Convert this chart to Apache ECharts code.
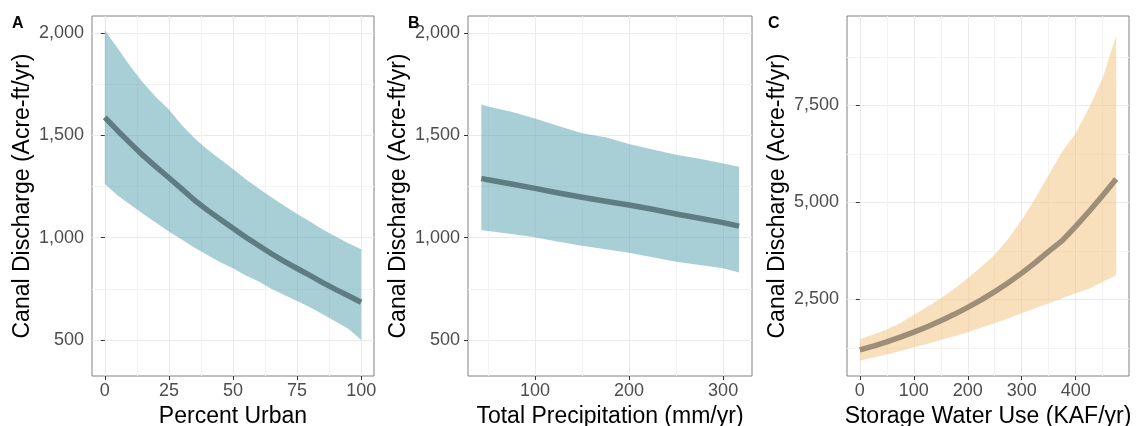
<!DOCTYPE html>
<html>
<head>
<meta charset="utf-8">
<script src="https://cdn.jsdelivr.net/npm/echarts@6/dist/echarts.min.js"></script>
<style>
  html, body { margin: 0; padding: 0; background: #ffffff; }
  #chart { width: 1136px; height: 426px; }
</style>
</head>
<body>
<div id="chart"></div>
<script>
// Panel A: canal discharge against percent urban
const urbanPct = [0, 5, 10, 15, 20, 25, 30, 35, 40, 45, 50, 55, 60, 65, 70, 75, 80, 85, 90, 95, 100];
const urbanFit = [1587, 1522, 1460, 1400, 1345, 1292, 1238, 1182, 1134, 1089, 1045, 1002, 961, 921, 884, 849, 815, 780, 747, 716, 684];
const urbanLo  = [1262, 1205, 1160, 1115, 1072, 1030, 990, 950, 915, 880, 850, 815, 785, 750, 720, 690, 660, 625, 590, 555, 500];
const urbanHi  = [2012, 1925, 1835, 1755, 1685, 1625, 1550, 1485, 1430, 1383, 1335, 1285, 1240, 1197, 1155, 1115, 1078, 1040, 1005, 972, 943];

// Panel B: canal discharge against total precipitation
const precipMm  = [43, 50, 75, 100, 125, 150, 175, 200, 225, 250, 275, 300, 317];
const precipFit = [1289, 1282, 1262, 1240, 1218, 1197, 1177, 1159, 1138, 1115, 1094, 1073, 1056];
const precipLo  = [1037, 1032, 1018, 1001, 980, 960, 943, 926, 904, 882, 866, 850, 830];
const precipHi  = [1650, 1640, 1615, 1582, 1545, 1510, 1490, 1457, 1430, 1405, 1385, 1362, 1346];

// Panel C: canal discharge against storage water use
const storageKaf = [0, 25, 50, 75, 100, 125, 150, 175, 200, 225, 250, 275, 300, 325, 350, 375, 400, 425, 450, 475];
const storageFit = [1194, 1295, 1405, 1524, 1654, 1794, 1946, 2112, 2291, 2486, 2696, 2925, 3174, 3443, 3736, 4010, 4380, 4770, 5175, 5600];
const storageLo  = [919, 1000, 1080, 1170, 1263, 1350, 1450, 1550, 1650, 1770, 1880, 2010, 2139, 2270, 2400, 2530, 2655, 2770, 2950, 3120];
const storageHi  = [1469, 1590, 1720, 1890, 2096, 2310, 2530, 2770, 3041, 3340, 3650, 4060, 4545, 5100, 5700, 6300, 6778, 7440, 8200, 9300];

// Tick positions
const ticksUrbanX    = [0, 25, 50, 75, 100];
const minorUrbanX    = [12.5, 37.5, 62.5, 87.5];
const ticksPrecipX   = [100, 200, 300];
const minorPrecipX   = [50, 150, 250];
const ticksStorageX  = [0, 100, 200, 300, 400];
const minorStorageX  = [50, 150, 250, 350, 450];
const ticksDischY    = [500, 1000, 1500, 2000];
const minorDischY    = [750, 1250, 1750];
const ticksDischYC   = [2500, 5000, 7500];
const minorDischYC   = [1250, 3750, 6250, 8750];

const FONT = 'Liberation Sans';
const fmt = v => Number(v).toLocaleString('en-US');

const grids = [
  { left: 92,  top: 16, width: 282, height: 360 },
  { left: 468, top: 16, width: 284, height: 360 },
  { left: 847, top: 16, width: 282, height: 360 }
];

const panels = [
  { x: urbanPct,   fit: urbanFit,   lo: urbanLo,   hi: urbanHi,
    xMin: -5, xMax: 105, yMin: 324, yMax: 2082,
    xTicks: ticksUrbanX, xMinor: minorUrbanX, yTicks: ticksDischY, yMinor: minorDischY,
    xName: 'Percent Urban', band: 'rgba(80,160,172,0.5)', line: '#5E7D82', tag: 'A' },
  { x: precipMm,   fit: precipFit,  lo: precipLo,  hi: precipHi,
    xMin: 28.8, xMax: 330.7, yMin: 324, yMax: 2082,
    xTicks: ticksPrecipX, xMinor: minorPrecipX, yTicks: ticksDischY, yMinor: minorDischY,
    xName: 'Total Precipitation (mm/yr)', band: 'rgba(80,160,172,0.5)', line: '#5E7D82', tag: 'B' },
  { x: storageKaf, fit: storageFit, lo: storageLo, hi: storageHi,
    xMin: -23.75, xMax: 498.75, yMin: 523, yMax: 9801,
    xTicks: ticksStorageX, xMinor: minorStorageX, yTicks: ticksDischYC, yMinor: minorDischYC,
    xName: 'Storage Water Use (KAF/yr)', band: 'rgba(242,194,122,0.5)', line: '#9E8D77', tag: 'C' }
];

const xAxes = [], yAxes = [], series = [], graphics = [];
const tagX = [12, 408, 768];

panels.forEach((p, g) => {
  // main axes: labels, ticks and major grid lines
  xAxes.push({
    gridIndex: g, type: 'value', min: p.xMin, max: p.xMax, position: 'bottom',
    name: p.xName, nameLocation: 'middle', nameGap: 24,
    nameTextStyle: { fontFamily: FONT, fontSize: 23, color: '#000' },
    axisLine: { show: false },
    axisTick: { show: true, length: 4, customValues: p.xTicks, lineStyle: { color: '#333', width: 1 } },
    axisLabel: { customValues: p.xTicks, margin: 6, fontFamily: FONT, fontSize: 18, color: '#4D4D4D', formatter: fmt },
    splitLine: { show: true, lineStyle: { color: '#EBEBEB', width: 1 } }
  });
  yAxes.push({
    gridIndex: g, type: 'value', min: p.yMin, max: p.yMax, position: 'left',
    name: 'Canal Discharge (Acre-ft/yr)', nameLocation: 'middle', nameGap: 58,
    nameTextStyle: { fontFamily: FONT, fontSize: 23, color: '#000' },
    axisLine: { show: false },
    axisTick: { show: true, length: 4, customValues: p.yTicks, lineStyle: { color: '#333', width: 1 } },
    axisLabel: { customValues: p.yTicks, margin: 8, fontFamily: FONT, fontSize: 18, color: '#4D4D4D', formatter: fmt },
    splitLine: { show: true, lineStyle: { color: '#EBEBEB', width: 1 } }
  });
});
panels.forEach((p, g) => {
  // companion axes carrying only the minor grid lines
  xAxes.push({
    gridIndex: g, type: 'value', min: p.xMin, max: p.xMax, position: 'top',
    axisLine: { show: false }, axisLabel: { show: false },
    axisTick: { show: false, customValues: p.xMinor },
    splitLine: { show: true, lineStyle: { color: '#F3F3F3', width: 1 } }
  });
  yAxes.push({
    gridIndex: g, type: 'value', min: p.yMin, max: p.yMax, position: 'right',
    axisLine: { show: false }, axisLabel: { show: false },
    axisTick: { show: false, customValues: p.yMinor },
    splitLine: { show: true, lineStyle: { color: '#F3F3F3', width: 1 } }
  });
});

panels.forEach((p, g) => {
  const xs = p.x, lo = p.lo, hi = p.hi;
  // confidence ribbon
  series.push({
    type: 'custom', xAxisIndex: g, yAxisIndex: g, silent: true, z: 2,
    data: xs.map((x, i) => [x, lo[i], hi[i]]),
    encode: { x: 0, y: [1, 2] },
    renderItem: (params, api) => {
      if (params.dataIndex !== 0) return null;
      const upper = xs.map((x, i) => api.coord([x, hi[i]]));
      const lower = xs.map((x, i) => api.coord([x, lo[i]])).reverse();
      return { type: 'polygon', shape: { points: upper.concat(lower) }, style: { fill: p.band } };
    }
  });
  // fitted curve
  series.push({
    type: 'line', xAxisIndex: g, yAxisIndex: g, z: 3, silent: true,
    data: xs.map((x, i) => [x, p.fit[i]]),
    showSymbol: false, smooth: false,
    lineStyle: { color: p.line, width: 5.5, cap: 'butt', join: 'round' }
  });
  graphics.push({
    type: 'text', left: tagX[g], top: 16,
    style: { text: p.tag, font: 'bold 16px "' + FONT + '"', fill: '#000' }
  });
});

const chart = echarts.init(document.getElementById('chart'), null, { renderer: 'canvas' });
chart.setOption({
  backgroundColor: '#ffffff',
  animation: false,
  grid: grids.map(gr => Object.assign({
    show: true, borderColor: '#808080', borderWidth: 1, backgroundColor: 'transparent',
    containLabel: false, outerBoundsMode: 'none'
  }, gr)),
  xAxis: xAxes,
  yAxis: yAxes,
  series: series,
  graphic: graphics
});
</script>
</body>
</html>
